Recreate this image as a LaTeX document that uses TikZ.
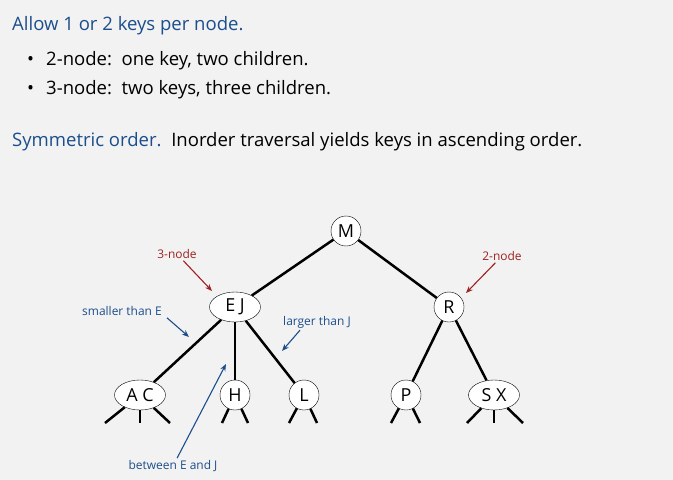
\documentclass[tikz,border=0pt]{standalone}
\usepackage{fontspec}
\setmainfont{Open Sans}
\usetikzlibrary{positioning,shapes.geometric,arrows.meta}
\definecolor{slide}{RGB}{242,242,242}
\definecolor{headblue}{RGB}{28,78,140}
\definecolor{notered}{RGB}{158,34,34}
\tikzset{
  key2/.style={circle, draw, thin, fill=white, minimum size=30bp, inner sep=0pt, font=\fontsize{18}{18}\selectfont},
  key3/.style={ellipse, draw, thin, fill=white, minimum width=51bp, minimum height=30bp, inner sep=0pt, font=\fontsize{18}{18}\selectfont},
  link/.style={line width=2.5bp},
  note/.style={font=\fontsize{12}{12}\selectfont, inner sep=2bp},
  pointer/.style={line width=1.1bp, -{Stealth[length=7bp,width=5.5bp]}},
  txt/.style={anchor=base west, inner sep=0pt, font=\fontsize{18.6}{20}\selectfont}
}
\begin{document}
\begin{tikzpicture}[x=1bp, y=-1bp, on grid]
	\fill[slide] (0,0) rectangle (673,480);
	
	% text above the tree
	\node[txt, text=headblue] (allow) at (12,31) {Allow 1 or 2 keys per node.};
	\node[txt] (dotA) at (27,66) {•};
	\node[txt] (two) at (46,66) {2-node:\ \ one key, two children.};
	\node[txt] (dotB) at (27,95) {•};
	\node[txt] (three) at (46,95) {3-node:\ \ two keys, three children.};
	\node[txt] (symm) at (12,147) {\textcolor{headblue}{Symmetric order.}\ \ Inorder traversal yields keys in ascending order.};
	
	% tree
	\node[key2] (M) at (346,231) {M};
	\node[key3, below left = 76bp and 111bp of M] (EJ) {E J};
	\node[key2, below right = 76bp and 103bp of M] (R) {R};
	\node[key3, below left = 88bp and 95bp of EJ] (AC) {A C};
	\node[key2, below = 88bp of EJ] (H) {H};
	\node[key2, below right = 88bp and 69bp of EJ] (L) {L};
	\node[key2, below left = 88bp and 43bp of R] (P) {P};
	\node[key3, below right = 88bp and 45bp of R] (SX) {S X};
	
	\foreach \a/\b in {M/EJ, M/R, EJ/AC, EJ/H, EJ/L, R/P, R/SX}
		\draw[link] (\a) -- (\b);
	
	% null links
	\foreach \n/\l/\r in {AC/35bp/30bp, SX/27bp/29bp, H/13bp/13bp, L/15bp/13bp, P/15bp/14bp}{
		\coordinate[below left = 28bp and \l of \n] (\n-l);
		\coordinate[below right = 28bp and \r of \n] (\n-r);
		\draw[link] (\n) -- (\n-l);
		\draw[link] (\n) -- (\n-r);
	}
	\foreach \n in {AC, SX}{
		\coordinate[below = 28bp of \n] (\n-m);
		\draw[link] (\n) -- (\n-m);
	}
	
	% notes
	\node[note, text=notered] (three-node) at (177,254) {3-node};
	\node[note, text=notered] (two-node) at (502,256) {2-node};
	\node[note, text=headblue] (smaller) at (122,311) {smaller than E};
	\node[note, text=headblue] (larger) at (317,322) {larger than J};
	\node[note, text=headblue] (between) at (173,466) {between E and J};
	\coordinate (tip3) at (212,291);
	\coordinate (tip2) at (466,293);
	\coordinate (tipS) at (189,337);
	\coordinate (tipL) at (282,351);
	\coordinate (tipB) at (226,364);
	
	\draw[pointer, notered] (three-node) -- (tip3);
	\draw[pointer, notered] (two-node) -- (tip2);
	\draw[pointer, headblue] ([xshift=3bp]smaller.south east) -- (tipS);
	\draw[pointer, headblue] ([xshift=-17bp]larger.south) -- (tipL);
	\draw[pointer, headblue] (between) -- (tipB);
\end{tikzpicture}
\end{document}
